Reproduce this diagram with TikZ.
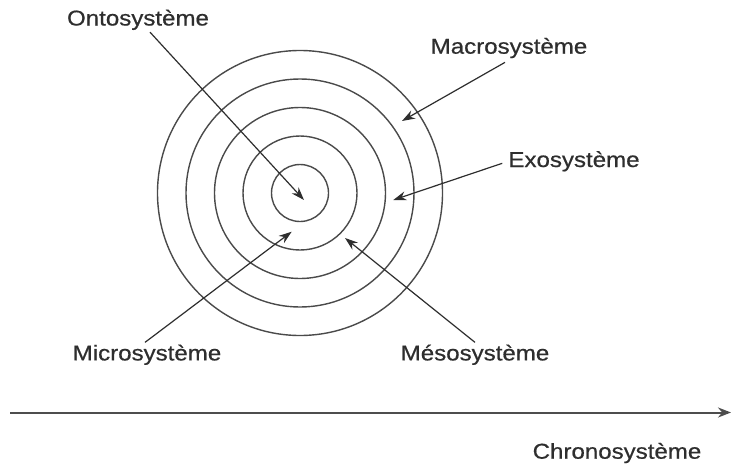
\documentclass[tikz,border=0pt]{standalone}
\usepackage{fontspec}
\setmainfont{Liberation Sans}
\newfontfamily\lblfont[FakeStretch=1.12,FakeBold=0.6]{Liberation Sans}
\usetikzlibrary{arrows.meta}
\definecolor{ink}{HTML}{2E2E2E}
\definecolor{ring}{HTML}{4A4A4A}
\begin{document}
\begin{tikzpicture}[x=1pt,y=-1pt,
  lbl/.style={font=\lblfont\fontsize{21.5}{24}\selectfont, text=ink, inner sep=1pt, anchor=base},
  ringline/.style={draw=ring, line width=1.4pt},
  pointer/.style={draw=ink, line width=1.2pt, -{Stealth[length=13pt,width=9pt]}},
  timeline/.style={draw=ink!85, line width=2pt, -{Stealth[length=13pt,width=10pt]}}]
\useasboundingbox (0,0) rectangle (731,471);
\fill[white] (0,0) rectangle (731,471);
% concentric circles
\coordinate (c) at (300,193);
\foreach \r in {28.5,57,85.5,114,142.5} \draw[ringline] (c) circle [radius=\r pt];
% labels
\node[lbl] (onto)   at (138,25.5)  {Ontosystème};
\node[lbl] (macro)  at (509,53.7)  {Macrosystème};
\node[lbl] (exo)    at (574,167)   {Exosystème};
\node[lbl] (micro)  at (147,360.4) {Microsystème};
\node[lbl] (meso)   at (475,360.4) {Mésosystème};
\node[lbl] (chrono) at (617,458.7) {Chronosystème};
% arrow tips
\coordinate (ontotip)  at (304,200);
\coordinate (macrotip) at (402,121);
\coordinate (exotip)   at (393.3,200);
\coordinate (microtip) at (291.7,231.7);
\coordinate (mesotip)  at (345,238);
% pointers
\draw[pointer] ([xshift=12pt,yshift=-1pt]onto.south) -- (ontotip);
\draw[pointer] ([xshift=-4pt,yshift=-3pt]macro.south) -- (macrotip);
\draw[pointer] ([xshift=-5pt,yshift=-2pt]exo.west) -- (exotip);
\draw[pointer] ([xshift=-2pt,yshift=1pt]micro.north) -- (microtip);
\draw[pointer] ([yshift=1pt]meso.north) -- (mesotip);
% time axis
\coordinate (tstart) at (10,412.5);
\coordinate (tend)   at (731,412.5);
\draw[timeline] (tstart) -- (tend);
\end{tikzpicture}
\end{document}
